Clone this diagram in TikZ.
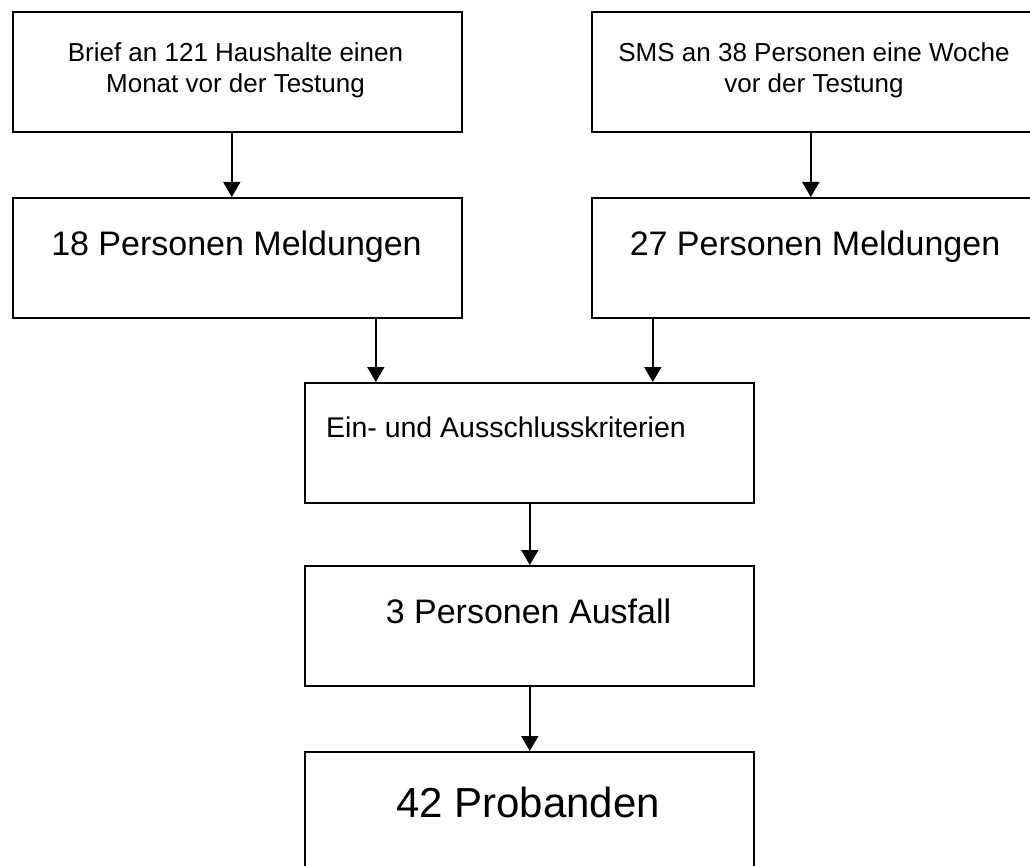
\documentclass[tikz,border=0pt]{standalone}
\usepackage{fontspec}
\setmainfont{Liberation Sans}
\usetikzlibrary{arrows.meta}
\begin{document}
\begin{tikzpicture}[x=1pt,y=-1pt,
  box/.style={draw=black,line width=1.6pt,fill=none,inner sep=0pt},
  arr/.style={draw=black,line width=1.8pt,-{Triangle[width=17pt,length=15pt]}},
  txt/.style={inner sep=0pt,anchor=base}]
\useasboundingbox[fill=white] (0,0) rectangle (1030,866);
% boxes
\node[box,minimum width=449pt,minimum height=120pt,anchor=north west] (b1) at (12,11) {};
\node[box,minimum width=446pt,minimum height=120pt,anchor=north west] (b2) at (591,11) {};
\node[box,minimum width=449pt,minimum height=120pt,anchor=north west] (b3) at (12,197) {};
\node[box,minimum width=446pt,minimum height=120pt,anchor=north west] (b4) at (591,197) {};
\node[box,minimum width=449pt,minimum height=120pt,anchor=north west] (b5) at (304,382) {};
\node[box,minimum width=449pt,minimum height=120pt,anchor=north west] (b6) at (304,565) {};
\node[box,minimum width=449pt,minimum height=120pt,anchor=north west] (b7) at (304,751) {};
% texts
\node[txt,font=\fontsize{26}{31}\selectfont] (t1a) at (235.5,62) {Brief an 121 Haushalte einen};
\node[txt,font=\fontsize{26}{31}\selectfont] (t1b) at (235.5,93) {Monat vor der Testung};
\node[txt,font=\fontsize{26}{31}\selectfont] (t2a) at (814,62) {SMS an 38 Personen eine Woche};
\node[txt,font=\fontsize{26}{31}\selectfont] (t2b) at (814,93) {vor der Testung};
\node[txt,font=\fontsize{34}{40}\selectfont] (t3) at (236.5,256) {18 Personen Meldungen};
\node[txt,font=\fontsize{34}{40}\selectfont] (t4) at (815,256) {27 Personen Meldungen};
\node[txt,anchor=base west,font=\fontsize{28.5}{34}\selectfont] (t5) at (326,437) {Ein- und Ausschlusskriterien};
\node[txt,font=\fontsize{34}{40}\selectfont] (t6) at (528.5,623) {3 Personen Ausfall};
\node[txt,font=\fontsize{42}{50}\selectfont] (t7) at (528,817) {42 Probanden};
% arrows
\draw[arr] ([xshift=-5.5pt]b1.south) -- ([xshift=-5.5pt]b3.north);
\draw[arr] ([xshift=-4pt]b2.south) -- ([xshift=-4pt]b4.north);
\draw[arr] ([xshift=138.5pt]b3.south) -- ([xshift=138.5pt]b3.south |- b5.north);
\draw[arr] ([xshift=-162pt]b4.south) -- ([xshift=-162pt]b4.south |- b5.north);
\draw[arr] ([xshift=0.5pt]b5.south) -- ([xshift=0.5pt]b6.north);
\draw[arr] ([xshift=0.5pt]b6.south) -- ([xshift=0.5pt]b7.north);
\end{tikzpicture}
\end{document}
